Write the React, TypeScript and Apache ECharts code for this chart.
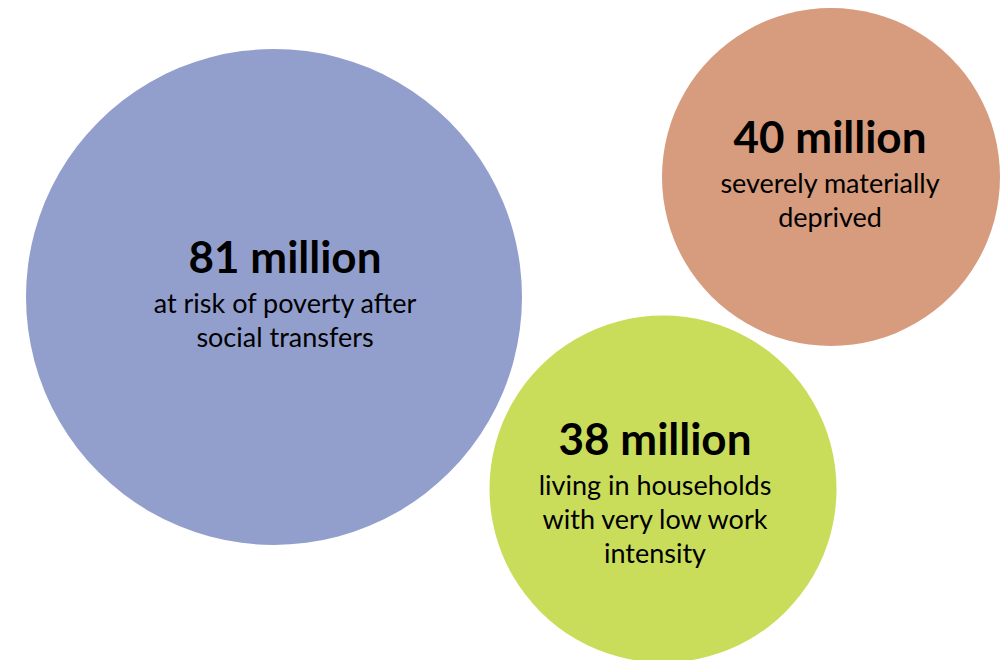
import React, { useEffect, useRef } from "react";
import * as echarts from "echarts";

const headlines = ["81 million", "40 million", "38 million"];
const values = [81, 40, 38];
const descriptions = [
  ["at risk of poverty after", "social transfers"],
  ["severely materially", "deprived"],
  ["living in households", "with very low work", "intensity"],
];
const colors = ["#929fcd", "#d79b7d", "#c9dd5a"];

// layout (pixel-space coordinates on hidden axes, bubble diameters)
const centersX = [274, 831, 663];
const centersY = [297, 177, 489];
const diameters = [496, 338, 347];
const labelOffsets = [
  [11, -7],
  [-1, -7],
  [-8, 0],
];

export default function App() {
  const ref = useRef<HTMLDivElement>(null);
  useEffect(() => {
    if (!ref.current) return;
    const chart = echarts.init(ref.current, undefined, { renderer: "svg" });
    const data = values.map((v, i) => ({
      value: [centersX[i], centersY[i], v],
      symbolSize: diameters[i],
      itemStyle: { color: colors[i], opacity: 1 },
      label: {
        offset: labelOffsets[i],
        formatter: () =>
          `{a|${headlines[i]}}\n` +
          descriptions[i].map((d) => `{b|${d}}`).join("\n"),
      },
    }));
    chart.setOption({
      animation: false,
      backgroundColor: "#ffffff",
      grid: { left: 0, right: 0, top: 0, bottom: 0 },
      xAxis: { type: "value", min: 0, max: 1007, show: false },
      yAxis: { type: "value", min: 0, max: 660, inverse: true, show: false },
      series: [
        {
          type: "scatter",
          symbol: "circle",
          data,
          label: {
            show: true,
            position: "inside",
            align: "center",
            verticalAlign: "middle",
            color: "#000",
            rich: {
              a: {
                fontFamily: "Lato",
                fontWeight: "bold",
                fontSize: 44,
                lineHeight: 58,
                color: "#000",
                align: "center",
              },
              b: {
                fontFamily: "Lato",
                fontSize: 27,
                lineHeight: 34,
                color: "#000",
                align: "center",
              },
            },
          },
          emphasis: { disabled: true },
        },
      ],
    });
    return () => chart.dispose();
  }, []);
  return (
    <div
      ref={ref}
      style={{ width: 1007, height: 660, position: "absolute", left: 0, top: 0 }}
    />
  );
}
